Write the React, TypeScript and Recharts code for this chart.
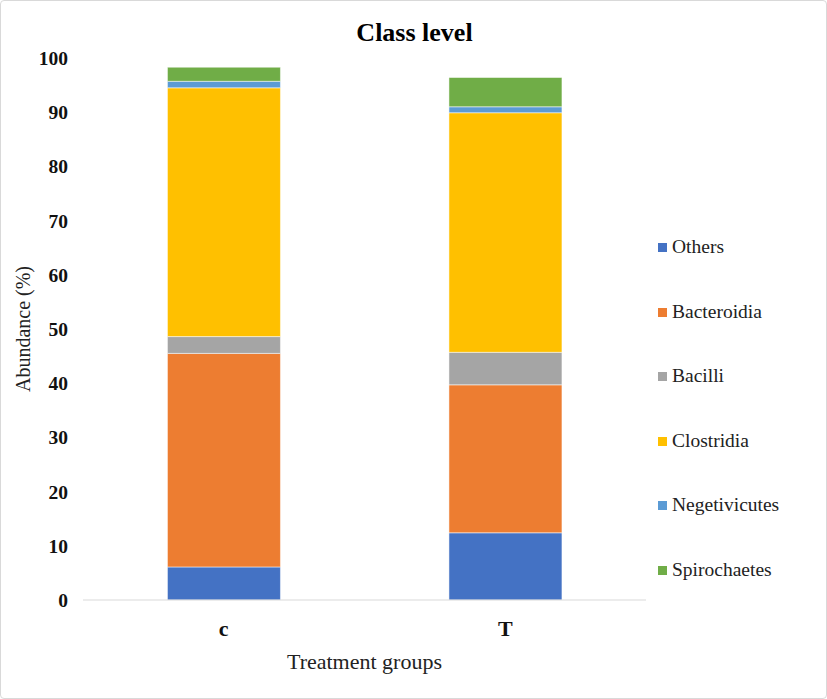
import { BarChart, Bar, XAxis, YAxis } from "recharts";

const groups = ["c", "T"];
const series = ["Others", "Bacteroidia", "Bacilli", "Clostridia", "Negetivicutes", "Spirochaetes"];
const colors = ["#4472C4", "#ED7D31", "#A5A5A5", "#FFC000", "#5B9BD5", "#70AD47"];
const others = [6.1, 12.4];
const bacteroidia = [39.4, 27.3];
const bacilli = [3.1, 6.0];
const clostridia = [45.9, 44.2];
const negetivicutes = [1.2, 1.1];
const spirochaetes = [2.6, 5.4];
const yTicks = [0, 10, 20, 30, 40, 50, 60, 70, 80, 90, 100];

const values = [others, bacteroidia, bacilli, clostridia, negetivicutes, spirochaetes];
const data = groups.map((g, i) => {
  const row: Record<string, string | number> = { name: g };
  series.forEach((s, j) => {
    row[s] = values[j][i];
  });
  return row;
});

const font = "'Times New Roman', 'Liberation Serif', serif";

function LegendBox() {
  return (
    <div
      style={{
        position: "absolute",
        left: 657,
        top: 235,
        fontFamily: font,
        fontSize: 19.5,
        color: "#222",
        lineHeight: "22px",
      }}
    >
      {series.map((s, i) => (
        <div key={s} style={{ height: 64.6, display: "flex", alignItems: "flex-start" }}>
          <span
            style={{
              display: "inline-block",
              width: 9,
              height: 9,
              background: colors[i],
              marginRight: 5,
              marginTop: 7,
            }}
          />
          <span>{s}</span>
        </div>
      ))}
    </div>
  );
}

export default function App() {
  return (
    <div
      style={{
        position: "absolute",
        left: 0,
        top: 0,
        width: 827,
        height: 699,
        background: "#fff",
        boxSizing: "border-box",
        border: "1px solid #d9d9d9",
        borderRadius: 4,
      }}
    >
      <div
        style={{
          position: "absolute",
          left: 0,
          width: 827,
          top: 17,
          textAlign: "center",
          fontFamily: font,
          fontWeight: "bold",
          fontSize: 26,
          lineHeight: "30px",
          color: "#000",
        }}
      >
        Class level
      </div>
      <BarChart
        width={825}
        height={697}
        data={data}
        margin={{ top: 57, right: 180, bottom: 0, left: 0 }}
        barCategoryGap="30%"
      >
        <XAxis
          dataKey="name"
          height={98}
          tickLine={false}
          tickMargin={14}
          axisLine={{ stroke: "#d9d9d9" }}
          tick={{ fontFamily: font, fontSize: 22, fontWeight: "bold", fill: "#111" }}
          label={{
            value: "Treatment groups",
            position: "insideBottom",
            offset: 29,
            style: { fontFamily: font, fontSize: 22, fill: "#222" },
          }}
        />
        <YAxis
          width={82}
          domain={[0, 100]}
          ticks={yTicks}
          interval={0}
          axisLine={false}
          tickLine={false}
          tickMargin={9}
          tick={{ fontFamily: font, fontSize: 19.5, fontWeight: "bold", fill: "#111" }}
          label={{
            value: "Abundance (%)",
            angle: -90,
            position: "insideLeft",
            offset: 22,
            style: { textAnchor: "middle", fontFamily: font, fontSize: 20, fill: "#222" },
          }}
        />
        {series.map((s, i) => (
          <Bar
            key={s}
            dataKey={s}
            stackId="a"
            fill={colors[i]}
            stroke="#ffffff"
            strokeWidth={0.5}
            isAnimationActive={false}
          />
        ))}
      </BarChart>
      <LegendBox />
    </div>
  );
}
